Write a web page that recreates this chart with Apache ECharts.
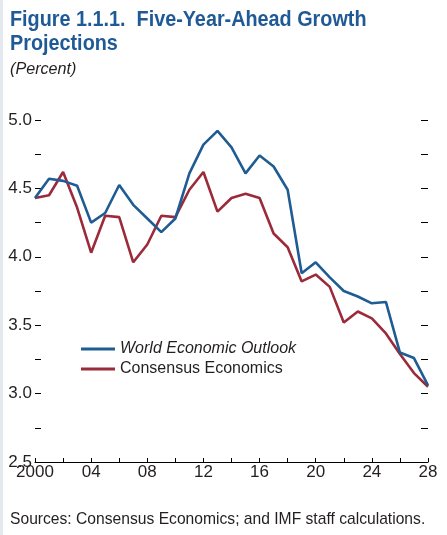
<!DOCTYPE html>
<html>
<head>
<meta charset="utf-8">
<script src="https://cdn.jsdelivr.net/npm/echarts@6/dist/echarts.min.js"></script>
<style>
html,body{margin:0;padding:0;background:#fff;}
#c{width:447px;height:535px;}
</style>
</head>
<body>
<div id="c"></div>
<script>
const years = [2000,2001,2002,2003,2004,2005,2006,2007,2008,2009,2010,2011,2012,2013,2014,2015,2016,2017,2018,2019,2020,2021,2022,2023,2024,2025,2026,2027,2028];
const weo = [4.43,4.57,4.555,4.52,4.25,4.32,4.525,4.38,4.28,4.18,4.28,4.61,4.82,4.92,4.80,4.61,4.74,4.66,4.49,3.88,3.96,3.85,3.75,3.71,3.66,3.67,3.30,3.26,3.06];
const consensus = [4.43,4.45,4.62,4.36,4.03,4.30,4.29,3.96,4.09,4.30,4.29,4.49,4.62,4.33,4.43,4.46,4.43,4.17,4.07,3.82,3.87,3.78,3.52,3.60,3.55,3.44,3.29,3.15,3.05];
const seriesNames = ['World Economic Outlook','Consensus Economics'];
const yTicks = [2.5,3.0,3.5,4.0,4.5,5.0];
const titleLines = ['Figure 1.1.1.  Five-Year-Ahead Growth','Projections'];
const subtitle = '(Percent)';
const sourceNote = 'Sources: Consensus Economics; and IMF staff calculations.';

const FONT = '"Liberation Sans", Arial, sans-serif';
const TXT = '#231f20';

const chart = echarts.init(document.getElementById('c'), null, {renderer:'canvas'});
chart.setOption({
  backgroundColor:'#ffffff',
  animation:false,
  graphic:[
    {type:'rect', shape:{x:0,y:0,width:3,height:535}, style:{fill:'#e4e9ef'}, silent:true},
    {type:'text', x:10, y:8, scaleX:0.9, style:{text:titleLines.join('\n'), fill:'#1f5a96',
      font:'bold 22px '+FONT, lineHeight:24, textVerticalAlign:'top'}},
    {type:'text', x:10, y:61, scaleX:0.95, style:{text:subtitle, fill:TXT,
      font:'italic 17px '+FONT, textVerticalAlign:'top'}},
    {type:'text', x:10, y:511, scaleX:0.92, style:{text:sourceNote, fill:TXT,
      font:'17px '+FONT, textVerticalAlign:'top'}}
  ],
  legend:{
    orient:'vertical', left:76, top:336, itemWidth:34, itemHeight:3, itemGap:4, icon:'rect',
    data:seriesNames,
    formatter:function(n){return n===seriesNames[0] ? '{i|'+n+'}' : n;},
    textStyle:{fontFamily:FONT, fontSize:16, color:TXT,
      rich:{i:{fontFamily:FONT, fontSize:16, fontStyle:'italic', color:TXT}}}
  },
  grid:{left:35, right:19, top:120, bottom:73},
  xAxis:{
    type:'value', min:2000, max:2028, interval:2,
    axisLine:{show:true, lineStyle:{color:'#000', width:1}},
    axisTick:{show:true, inside:true, length:4, lineStyle:{color:'#000'}},
    splitLine:{show:false},
    axisLabel:{fontFamily:FONT, fontSize:17, color:TXT, margin:2,
      formatter:function(v){ if(v%4!==0) return ''; return v===2000 ? '2000' : String(v%100).padStart(2,'0'); }}
  },
  yAxis:[
    {type:'value', min:2.5, max:5.0, interval:0.25, position:'left',
     axisLine:{show:false},
     axisTick:{show:true, inside:true, length:6, lineStyle:{color:'#000'}},
     splitLine:{show:false},
     axisLabel:{fontFamily:FONT, fontSize:17, color:TXT, margin:3,
       formatter:function(v){ return yTicks.some(t=>Math.abs(t-v)<1e-6) ? v.toFixed(1) : ''; }}},
    {type:'value', min:2.5, max:5.0, interval:0.25, position:'right',
     axisLine:{show:false},
     axisTick:{show:true, inside:true, length:7, lineStyle:{color:'#000'}},
     splitLine:{show:false},
     axisLabel:{show:false}}
  ],
  series:[
    {name:seriesNames[0], type:'line', data:years.map((y,i)=>[y,weo[i]]), showSymbol:false,
     lineStyle:{color:'#1f5c94', width:2.6}, itemStyle:{color:'#1f5c94'}, z:3},
    {name:seriesNames[1], type:'line', data:years.map((y,i)=>[y,consensus[i]]), showSymbol:false,
     lineStyle:{color:'#9b2a3a', width:2.6}, itemStyle:{color:'#9b2a3a'}, z:2}
  ]
});
</script>
</body>
</html>
